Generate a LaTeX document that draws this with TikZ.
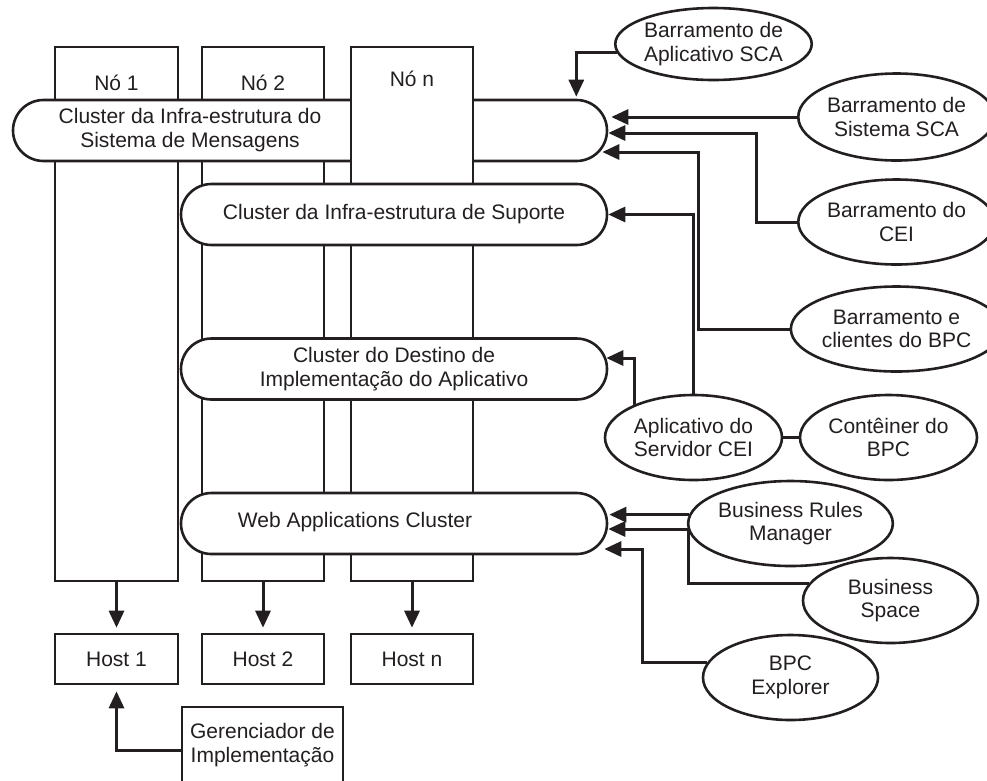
\documentclass[tikz,border=0pt]{standalone}
\usepackage{fontspec}
\setmainfont{Liberation Sans}
\usetikzlibrary{arrows.meta,calc,shapes.geometric}
\definecolor{ink}{RGB}{35,31,32}
\begin{document}
\begin{tikzpicture}[x=1pt,y=-1pt,
  font=\fontsize{21}{23.5}\selectfont, text=ink,
  box/.style={draw=ink, line width=2.6pt, fill=white, rectangle, inner sep=0pt},
  nodebox/.style={box, minimum height=534pt},
  cluster/.style={box, rounded corners=30.5pt, minimum height=61pt, align=center},
  host/.style={box, minimum width=123pt, minimum height=50pt},
  oval/.style={draw=ink, line width=2.6pt, fill=white, ellipse, minimum width=177pt,
               minimum height=85pt, inner sep=0pt, align=center},
  conn/.style={draw=ink, line width=3pt, -{Triangle[length=17pt,width=15pt]}},
  link/.style={draw=ink, line width=3pt},
  lbl/.style={align=center, inner sep=0pt}
]
\useasboundingbox (0,0) rectangle (987,780);

% node columns (the first two sit behind the messaging cluster)
\node[nodebox, minimum width=123pt] (n1) at (116.5,314) {};
\node[nodebox, minimum width=122pt] (n2) at (263,314) {};
\node[cluster, minimum width=594pt] (c1) at (310,130.5) {};
\node[lbl] (c1t) at (190,130) {Cluster da Infra-estrutura do\\Sistema de Mensagens};
\node[nodebox, minimum width=122pt] (n3) at (412,314) {};
\node[lbl] (n1t) at (116.5,83) {Nó 1};
\node[lbl] (n2t) at (263,83) {Nó 2};
\node[lbl] (n3t) at (412,79) {Nó n};

% clusters spanning the columns
\node[cluster, minimum width=426pt] (c2) at (394,214.5) {Cluster da Infra-estrutura de Suporte};
\node[cluster, minimum width=426pt] (c3) at (394,369) {Cluster do Destino de\\Implementação do Aplicativo};
\node[cluster, minimum width=426pt] (c4) at (394,523.5) {};
\node[lbl] (c4t) at (355,522) {Web Applications Cluster};

% hosts and deployment manager
\node[host] (h1) at (116.5,659) {Host 1};
\node[host, minimum width=122pt] (h2) at (263,659) {Host 2};
\node[host, minimum width=122pt] (h3) at (412,659) {Host n};
\node[box, minimum width=161pt, minimum height=76pt, align=center] (g) at (262.5,745) {Gerenciador de\\Implementação};

% components
\node[oval, minimum height=72pt] (e1) at (713.5,44) {Barramento de\\Aplicativo SCA};
\node[oval, minimum height=87pt] (e2) at (896.5,117) {Barramento de\\Sistema SCA};
\node[oval] (e3) at (896.5,222) {Barramento do\\CEI};
\node[oval] (e4) at (896.5,329) {Barramento e\\clientes do BPC};
\node[oval] (e5) at (693.5,437.5) {Aplicativo do\\Servidor CEI};
\node[oval] (e6) at (888.5,437.5) {Contêiner do\\BPC};
\node[oval, minimum width=175pt] (e7) at (790.5,523.5) {Business Rules\\Manager};
\node[oval, minimum width=175pt] (e8) at (890.5,600.5) {Business\\Space};
\node[oval, minimum width=175pt] (e9) at (790.5,677.5) {BPC\\Explorer};

% connectors into the messaging cluster
\draw[conn, shorten >=2pt] (e1.185) -| ($(c1.north east)+(-32,0)$);
\draw[conn, shorten >=3pt] (e2.west) -- (e2.west -| c1.east);
\draw[conn] (e3.west) -| ($(c1.east)+(148,2.5)$) -- ($(c1.east)+(0,2.5)$);
\draw[conn] (e4.west) -| ($(c1.east)+(90,21.5)$) -- ($(c1.east)+(-6,21.5)$);

% application server connectors
\draw[conn] (e5.north) |- (c2.east);
\draw[conn] (e5.151) |- ($(c3.east)+(-2,-11)$);
\draw[link] (e5.east) -- (e6.west);

% web application connectors
\draw[conn, shorten >=1pt] (e7.175) -- (e7.175 -| c4.east);
\draw[conn] (e8.168) -| ($(c4.east)+(80,5.5)$) -- ($(c4.east)+(0,5.5)$);
\draw[conn] (e9.170) -| ($(c4.east)+(34,25.5)$) -- ($(c4.east)+(-4,25.5)$);

% nodes to hosts
\draw[conn, shorten >=5pt] (n1.south) -- (h1.north);
\draw[conn, shorten >=5pt] (n2.south) -- (h2.north);
\draw[conn, shorten >=5pt] (n3.south) -- (h3.north);
\draw[conn, shorten >=6pt] ($(g.west)+(0,5)$) -| (h1.south);
\end{tikzpicture}
\end{document}
